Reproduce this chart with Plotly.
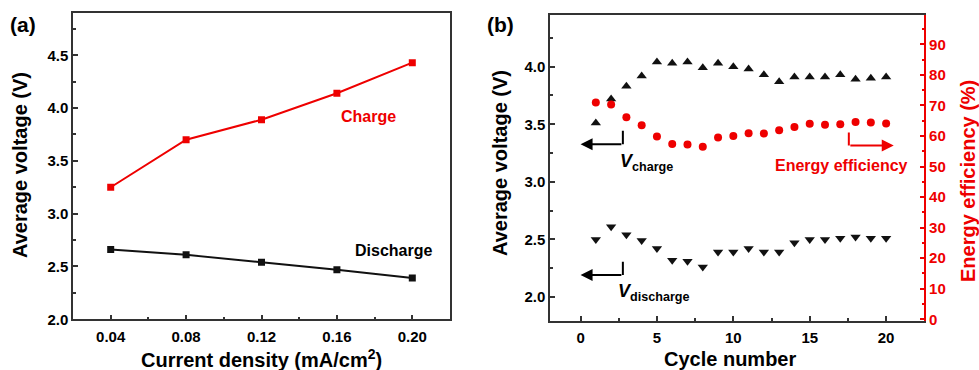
import plotly.graph_objects as go

# ---- Panel (a) data ----
current_density = [0.04, 0.08, 0.12, 0.16, 0.20]
charge_v = [3.25, 3.70, 3.89, 4.14, 4.43]
discharge_v = [2.66, 2.61, 2.54, 2.47, 2.39]

# ---- Panel (b) data ----
cycles = list(range(1, 21))
v_charge = [3.51, 3.72, 3.83, 3.92, 4.04, 4.03, 4.04, 3.99, 4.03, 4.00,
            3.98, 3.93, 3.87, 3.91, 3.91, 3.91, 3.93, 3.89, 3.90, 3.91]
v_discharge = [2.50, 2.61, 2.54, 2.49, 2.42, 2.32, 2.31, 2.26, 2.39, 2.39,
               2.42, 2.39, 2.39, 2.47, 2.50, 2.50, 2.51, 2.52, 2.51, 2.51]
energy_eff = [71.0, 70.3, 66.1, 63.5, 59.8, 57.4, 57.2, 56.5, 59.5, 60.0,
              60.9, 60.8, 61.9, 62.9, 64.0, 63.7, 63.8, 64.6, 64.4, 64.1]

RED = "#ee0000"
BLK = "#111111"
FONT = "Liberation Sans"
W, H = 979, 370

fig = go.Figure()

fig.add_trace(go.Scatter(x=current_density, y=charge_v, mode="lines+markers",
                         line=dict(color=RED, width=2),
                         marker=dict(symbol="square", size=7, color=RED),
                         xaxis="x", yaxis="y", showlegend=False))
fig.add_trace(go.Scatter(x=current_density, y=discharge_v, mode="lines+markers",
                         line=dict(color=BLK, width=2),
                         marker=dict(symbol="square", size=7, color=BLK),
                         xaxis="x", yaxis="y", showlegend=False))

fig.add_trace(go.Scatter(x=cycles, y=v_charge, mode="markers",
                         marker=dict(symbol="triangle-up", size=9, color=BLK),
                         xaxis="x2", yaxis="y2", showlegend=False))
fig.add_trace(go.Scatter(x=cycles, y=v_discharge, mode="markers",
                         marker=dict(symbol="triangle-down", size=9, color=BLK),
                         xaxis="x2", yaxis="y2", showlegend=False))
fig.add_trace(go.Scatter(x=cycles, y=energy_eff, mode="markers",
                         marker=dict(symbol="circle", size=8, color=RED),
                         xaxis="x2", yaxis="y3", showlegend=False))

tickfont = dict(family=FONT, size=15, color="black", weight="bold")
AX = "#333333"

def axcommon(**kw):
    d = dict(showgrid=False, zeroline=False, showline=True, linecolor=AX, linewidth=1.5,
             ticks="inside", ticklen=5, tickwidth=1.5, tickcolor=AX,
             tickfont=tickfont, automargin=False)
    d.update(kw)
    return d

xa_dom = [73 / W, 450 / W]
ya_dom = [1 - 319.3 / H, 1 - 13 / H]
xb_dom = [550 / W, 924.3 / W]
yb_dom = [1 - 320.7 / H, 1 - 15 / H]

fig.update_layout(
    width=W, height=H,
    margin=dict(l=0, r=0, t=0, b=0),
    paper_bgcolor="white", plot_bgcolor="white",
    font=dict(family=FONT, color="black"),
    xaxis=axcommon(domain=xa_dom, anchor="y", range=[0.02, 0.22], mirror=True,
                   tick0=0.04, dtick=0.04, tickformat=".2f", ticklabelstandoff=3,
                   minor=dict(ticks="inside", ticklen=3, dtick=0.02, tick0=0.02, tickcolor=AX)),
    yaxis=axcommon(domain=ya_dom, anchor="x", range=[2.0, 4.9], mirror=True,
                   tick0=2.0, dtick=0.5, tickformat=".1f",
                   minor=dict(ticks="inside", ticklen=3, dtick=0.25, tick0=2.0, tickcolor=AX)),
    xaxis2=axcommon(domain=xb_dom, anchor="y2", range=[-2, 22.5], mirror=True,
                    tick0=0, dtick=5, ticklabelstandoff=3,
                    minor=dict(ticks="inside", ticklen=3, dtick=2.5, tick0=0, tickcolor=AX)),
    yaxis2=axcommon(domain=yb_dom, anchor="x2", range=[1.794, 4.449], mirror=False,
                    tick0=2.0, dtick=0.5, tickformat=".1f",
                    minor=dict(ticks="inside", ticklen=3, dtick=0.25, tick0=2.0, tickcolor=AX)),
    yaxis3=dict(domain=yb_dom, anchor="x2", overlaying="y2", side="right",
                range=[-0.46, 99.6], showgrid=False, zeroline=False,
                showline=True, linecolor=RED, linewidth=1.5,
                ticks="inside", ticklen=5, tickwidth=1.5, tickcolor=RED,
                tick0=0, dtick=10, automargin=False,
                tickfont=dict(family=FONT, size=15, color=RED, weight="bold"),
                minor=dict(ticks="inside", ticklen=3, dtick=5, tick0=0, tickcolor=RED)),
)

def bold(t):
    return "<b>" + t + "</b>"

def txt(text, x, y, size, color="black", angle=0, xref="paper", yref="paper", xanchor="center"):
    return dict(text=text, x=x, y=y, xref=xref, yref=yref, showarrow=False,
                textangle=angle, xanchor=xanchor, yanchor="middle",
                font=dict(size=size, family=FONT, color=color))

ann = []
# panel labels
ann.append(txt(bold("(a)"), 22.7 / W, 1 - 24 / H, 21))
ann.append(txt(bold("(b)"), 500.7 / W, 1 - 24 / H, 21))
# axis titles
ann.append(txt(bold("Average voltage (V)"), 20 / W, 1 - 165 / H, 20, angle=-90))
ann.append(txt(bold("Current density (mA/cm<sup>2</sup>)"), 261 / W, 1 - 358 / H, 20))
ann.append(txt(bold("Average voltage (V)"), 500 / W, 1 - 163 / H, 20, angle=-90))
ann.append(txt(bold("Energy efficiency (%)"), 968 / W, 1 - 181 / H, 20, color=RED, angle=-90))
ann.append(txt(bold("Cycle number"), 730 / W, 1 - 359 / H, 20))
# in-plot labels panel (a)
ann.append(txt(bold("Charge"), 0.1765, 3.92, 16, color=RED, xref="x", yref="y"))
ann.append(txt(bold("Discharge"), 0.1898, 2.648, 16, xref="x", yref="y"))
# panel (b) labels
ann.append(txt("<b><i>V</i></b><b><sub>charge</sub></b>", 2.45, 3.17, 18,
               xref="x2", yref="y2", xanchor="left"))
ann.append(txt("<b><i>V</i></b><b><sub>discharge</sub></b>", 2.29, 2.04, 18,
               xref="x2", yref="y2", xanchor="left"))
ann.append(txt(bold("Energy efficiency"), 17.08, 50.5, 16, color=RED, xref="x2", yref="y3"))
# arrows (horizontal parts)
ann.append(dict(text="", x=0, y=3.326, ax=2.77, ay=3.326, xref="x2", yref="y2",
                axref="x2", ayref="y2", showarrow=True, arrowhead=2, arrowsize=1.2,
                arrowwidth=2, arrowcolor="black"))
ann.append(dict(text="", x=0, y=2.191, ax=2.77, ay=2.191, xref="x2", yref="y2",
                axref="x2", ayref="y2", showarrow=True, arrowhead=2, arrowsize=1.2,
                arrowwidth=2, arrowcolor="black"))
ann.append(dict(text="", x=20.5, y=56.9, ax=17.56, ay=56.9, xref="x2", yref="y3",
                axref="x2", ayref="y3", showarrow=True, arrowhead=2, arrowsize=1.2,
                arrowwidth=2, arrowcolor=RED))
fig.update_layout(annotations=ann)

# vertical parts of the L arrows
fig.add_shape(type="line", x0=2.77, x1=2.77, y0=3.444, y1=3.326, xref="x2", yref="y2",
              line=dict(color="black", width=2))
fig.add_shape(type="line", x0=2.77, x1=2.77, y0=2.307, y1=2.191, xref="x2", yref="y2",
              line=dict(color="black", width=2))
fig.add_shape(type="line", x0=17.56, x1=17.56, y0=61.1, y1=56.9, xref="x2", yref="y3",
              line=dict(color=RED, width=2))

fig.write_html("out.html")
